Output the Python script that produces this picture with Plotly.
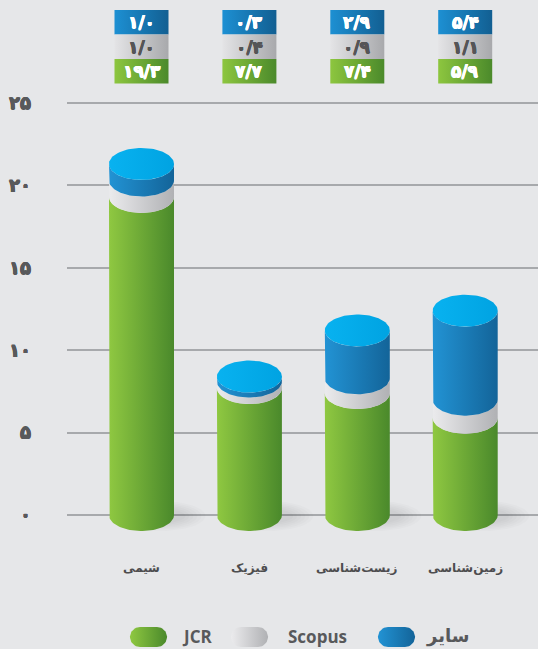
import numpy as np
import plotly.graph_objects as go

# ---------------- data ----------------
categories = ["شیمی", "فیزیک", "زیست\u200cشناسی", "زمین\u200cشناسی"]
jcr = [19.3, 7.7, 7.4, 5.9]
scopus = [1.0, 0.4, 0.9, 1.1]
other = [1.0, 0.3, 2.9, 5.4]
series_names = ["JCR", "Scopus", "سایر"]
y_ticks = [0, 5, 10, 15, 20, 25]

# ---------------- geometry / style ----------------
W, H = 538, 649
L = 67
Y0_PX, PX_PER_UNIT = 515.0, 16.48      # value 0 pixel row, pixels per unit
X0_PX, PX_PER_CAT = 141.5, 107.9       # first category centre, category spacing


def vy(px):
    return (Y0_PX - px) / PX_PER_UNIT


def vx(px):
    return (px - X0_PX) / PX_PER_CAT


HALF_W = 32.5 / PX_PER_CAT
RY = 16.0 / PX_PER_UNIT

BG = "#e6e7e9"
TXT = "#58595b"
FA_FONT = "DejaVu Sans"

grad = {
    "JCR": ("#8fc841", "#4a892b"),
    "Scopus": ("#ebebed", "#b0b1b4"),
    "سایر": ("#2293d4", "#136499"),
}
cap_grad = ("#08b2f0", "#00a3e2")
box_grad = {
    "JCR": ("#8dc63f", "#4b8a2b"),
    "Scopus": ("#e4e4e6", "#a8a9ac"),
    "سایر": ("#1d90d3", "#125f92"),
}
box_txt = {"JCR": "#ffffff", "Scopus": "#555557", "سایر": "#ffffff"}

FA_DIGITS = str.maketrans("0123456789", "۰۱۲۳۴۵۶۷۸۹")


def fa(v, dec=True):
    s = f"{v:.1f}" if dec else f"{v:g}"
    return s.replace(".", "/").translate(FA_DIGITS)


def heavy(color, d=0.6):
    return (f"{d}px 0 0 {color}, -{d}px 0 0 {color}, 0 {d}px 0 {color}, 0 -{d}px 0 {color}")


fig = go.Figure()


def poly(xs, ys, c0, c1, opacity=1.0):
    fig.add_trace(go.Scatter(
        x=list(xs), y=list(ys), mode="lines", fill="toself",
        line=dict(width=0, color="rgba(0,0,0,0)"),
        fillgradient=dict(type="horizontal", colorscale=[[0, c0], [1, c1]]),
        opacity=opacity, hoverinfo="skip", showlegend=False))


def flat(xs, ys, color):
    fig.add_trace(go.Scatter(
        x=list(xs), y=list(ys), mode="lines", fill="toself",
        line=dict(width=0, color="rgba(0,0,0,0)"), fillcolor=color,
        hoverinfo="skip", showlegend=False))


th_lo = np.linspace(np.pi, 2 * np.pi, 48)      # front (lower) arc, left -> right
th_full = np.linspace(0, 2 * np.pi, 96)

# soft shadows at the base
for i in range(len(categories)):
    cx = i + 20.0 / PX_PER_CAT
    for rx, ry in [(44, 15), (40, 13.5), (36, 12), (32, 10.5), (28, 9), (24, 7.5)]:
        flat(cx + (rx / PX_PER_CAT) * np.cos(th_full),
             vy(Y0_PX + 1) + (ry / PX_PER_UNIT) * np.sin(th_full),
             "rgba(0,0,0,0.014)")

# cylinders
for i in range(len(categories)):
    stack = [("JCR", jcr[i]), ("Scopus", scopus[i]), ("سایر", other[i])]
    base = 0.0
    for name, val in stack:
        v0, v1 = base, base + val
        xs = [i - HALF_W] + list(i + HALF_W * np.cos(th_lo)) + [i + HALF_W] \
            + list(i + HALF_W * np.cos(th_lo[::-1]))
        ys = [v1] + list(v0 + RY * np.sin(th_lo)) + [v1] \
            + list(v1 + RY * np.sin(th_lo[::-1]))
        poly(xs, ys, *grad[name])
        base = v1
    poly(i + HALF_W * np.cos(th_full), base + RY * np.sin(th_full), *cap_grad)

# value boxes on top
BOX_HW = 27.0 / PX_PER_CAT
rows = [("سایر", other, 10.0, 34.5), ("Scopus", scopus, 34.5, 59.0), ("JCR", jcr, 59.0, 83.5)]
annotations = []
for i in range(len(categories)):
    for name, vals, p0, p1 in rows:
        poly([i - BOX_HW, i + BOX_HW, i + BOX_HW, i - BOX_HW, i - BOX_HW],
             [vy(p0), vy(p0), vy(p1), vy(p1), vy(p0)], *box_grad[name])
        annotations.append(dict(
            x=i, y=vy((p0 + p1) / 2), text=f"<b>{fa(vals[i])}</b>", showarrow=False,
            font=dict(family=FA_FONT, size=17, color=box_txt[name],
                      shadow=heavy(box_txt[name], 0.5)),
            xanchor="center", yanchor="middle"))

# category labels
for i, c in enumerate(categories):
    annotations.append(dict(
        x=i, y=vy(568), text=f"<b>{c}</b>", showarrow=False,
        font=dict(family=FA_FONT, size=12, color="#4d4d4f"),
        xanchor="center", yanchor="middle"))

# legend (capsules + text)
leg_items = [("JCR", 148.5, 180.0), ("Scopus", 249.5, 286.0), ("سایر", 396.5, 424.0)]
LEG_Y = 637.0
for name, cxp, txp in leg_items:
    a, r = 18.5, 10.0
    t1 = np.linspace(-np.pi / 2, np.pi / 2, 24)
    t2 = np.linspace(np.pi / 2, 3 * np.pi / 2, 24)
    px = list(cxp + (a - r) + r * np.cos(t1)) + list(cxp - (a - r) + r * np.cos(t2))
    py = list(LEG_Y + r * np.sin(t1)) + list(LEG_Y + r * np.sin(t2))
    px.append(px[0]); py.append(py[0])
    poly([vx(p) for p in px], [vy(p) for p in py], *grad[name])
    fam = FA_FONT if name == "سایر" else "Open Sans"
    annotations.append(dict(
        x=vx(txp), y=vy(LEG_Y - 1), text=f"<b>{name}</b>", showarrow=False,
        font=dict(family=fam, size=18 if name == "سایر" else 17, color=TXT),
        xanchor="left", yanchor="middle"))

fig.update_layout(
    width=W, height=H,
    margin=dict(l=L, r=0, t=0, b=0),
    paper_bgcolor=BG, plot_bgcolor=BG,
    showlegend=False,
    annotations=annotations,
    xaxis=dict(range=[vx(L), vx(W)], showgrid=False, zeroline=False,
               showticklabels=False, showline=False, fixedrange=True),
    yaxis=dict(range=[vy(H), vy(0)], tickvals=y_ticks,
               ticktext=[f"<b>{fa(v, dec=False)}</b>" for v in y_ticks],
               showgrid=True, gridcolor="#a7a9ac", gridwidth=1.5,
               zeroline=False, showline=False, ticks="",
               ticklabelstandoff=35,
               tickfont=dict(family=FA_FONT, size=18, color=TXT, shadow=heavy(TXT, 0.5)),
               fixedrange=True),
)

fig.write_html(
    "out.html",
    config={"displayModeBar": False},
    post_script="document.body.style.margin='0';document.body.style.overflow='hidden';"
                "document.body.style.background='" + BG + "';",
)
